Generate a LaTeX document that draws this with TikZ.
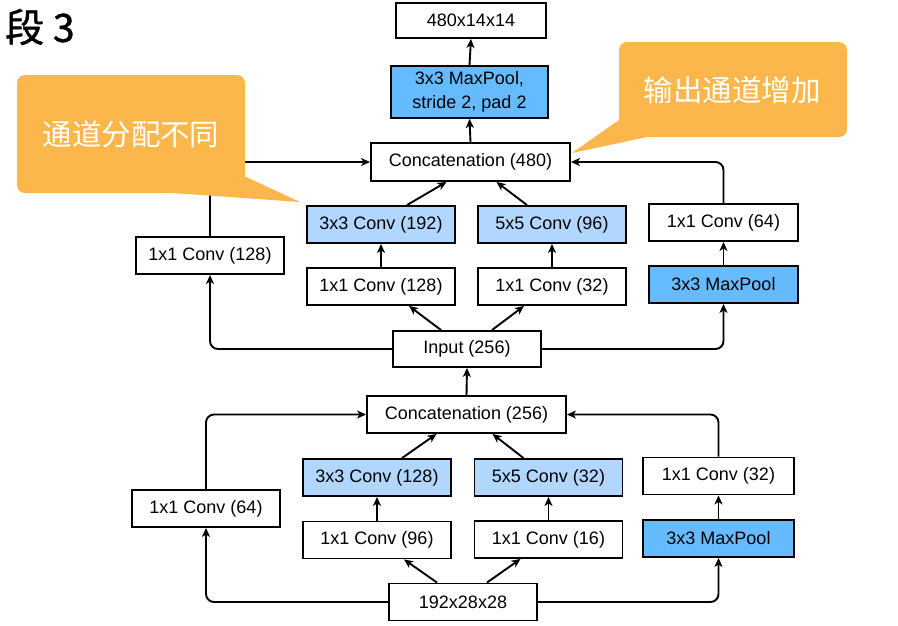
\documentclass[tikz,border=0pt]{standalone}
\usepackage{fontspec}
\setmainfont{Liberation Sans}
\newfontfamily\cjk{Noto Sans CJK SC}
\newfontfamily\cjkt[FakeBold=1.2]{Noto Sans CJK SC}
\usetikzlibrary{arrows.meta,calc}
\definecolor{lblue}{RGB}{178,215,255}
\definecolor{dblue}{RGB}{102,187,255}
\definecolor{callout}{RGB}{251,182,76}
\tikzset{
  box/.style={draw=black, line width=1.9pt, fill=white, minimum width=148pt, minimum height=37pt, inner sep=0pt, font=\fontsize{18}{21}\selectfont, align=center},
  lbox/.style={box, fill=lblue},
  bbox/.style={box, fill=dblue},
  arr/.style={line width=1.9pt, -{Stealth[length=9pt,width=8pt,inset=2.5pt]}, rounded corners=8pt},
  calloutfill/.style={fill=callout, draw=none},
  callouttext/.style={text=white, font=\cjk\fontsize{29.5}{32}\selectfont}
}
\begin{document}
\begin{tikzpicture}[x=1pt,y=-1pt]
\useasboundingbox[fill=white] (0,0) rectangle (898,625);

% title
\node[anchor=west, font=\cjkt\fontsize{39}{40}\selectfont, inner sep=0pt] (title) at (5,27) {段 3};

% ---- upper block ----
\node[box, minimum width=150pt, minimum height=35pt] (out) at (471,20.5) {480x14x14};
\node[bbox, minimum width=157pt, minimum height=52pt, font=\fontsize{18}{24}\selectfont] (mp2) at (469.5,92) {3x3 MaxPool,\\stride 2, pad 2};
\node[box, minimum width=199pt, minimum height=38pt] (cat480) at (470.5,162) {Concatenation (480)};
\node[box] (a1) at (210,255.5) {1x1 Conv (128)};
\node[box] (b1) at (381,286.5) {1x1 Conv (128)};
\node[lbox] (b2) at (381,224.5) {3x3 Conv (192)};
\node[box] (c1) at (552,286.5) {1x1 Conv (32)};
\node[lbox] (c2) at (552,224.5) {5x5 Conv (96)};
\node[bbox, minimum width=149pt] (d1) at (723.5,284.5) {3x3 MaxPool};
\node[box, minimum width=149pt] (d2) at (723.5,222.5) {1x1 Conv (64)};
\node[box, minimum height=36pt] (in256) at (467,349) {Input (256)};

% ---- lower block ----
\node[box, minimum width=199pt] (cat256) at (466.5,414.5) {Concatenation (256)};
\node[box] (e) at (206,508.5) {1x1 Conv (64)};
\node[box] (f1) at (377,540) {1x1 Conv (96)};
\node[lbox] (f2) at (377,477.5) {3x3 Conv (128)};
\node[box] (g1) at (548.5,539.5) {1x1 Conv (16)};
\node[lbox] (g2) at (548.5,477.5) {5x5 Conv (32)};
\node[bbox, minimum width=151pt] (h1) at (718.5,538.5) {3x3 MaxPool};
\node[box, minimum width=151pt] (h2) at (718.5,476) {1x1 Conv (32)};
\node[box] (inp) at (463,602) {192x28x28};

% ---- upper connectors ----
\draw[arr] (mp2.north) -- (out.south);
\draw[arr] (cat480.north) -- (mp2.south);
\draw[arr] (in256.west) -| (a1.south);
\draw[arr] (a1.north) |- (cat480.west);
\draw[arr] ([xshift=-26pt]in256.north) -- ([xshift=28pt]b1.south);
\draw[arr] ([xshift=25pt]in256.north) -- ([xshift=-28pt]c1.south);
\draw[arr] (b1.north) -- (b2.south);
\draw[arr] (c1.north) -- (c2.south);
\draw[arr] ([xshift=26pt]b2.north) -- ([xshift=-24pt]cat480.south);
\draw[arr] ([xshift=-25pt]c2.north) -- ([xshift=26pt]cat480.south);
\draw[arr] (in256.east) -| (d1.south);
\draw[arr] (d1.north) -- (d2.south);
\draw[arr] (d2.north) |- (cat480.east);
\draw[arr] (cat256.north) -- (in256.south);

% ---- lower connectors ----
\draw[arr] (inp.west) -| (e.south);
\draw[arr] (e.north) |- (cat256.west);
\draw[arr] ([xshift=-26pt]inp.north) -- ([xshift=27pt]f1.south);
\draw[arr] ([xshift=24pt]inp.north) -- ([xshift=-28pt]g1.south);
\draw[arr] (f1.north) -- (f2.south);
\draw[arr] (g1.north) -- (g2.south);
\draw[arr] ([xshift=25pt]f2.north) -- ([xshift=-30pt]cat256.south);
\draw[arr] ([xshift=-25pt]g2.north) -- ([xshift=26pt]cat256.south);
\draw[arr] (inp.east) -| (h1.south);
\draw[arr] (h1.north) -- (h2.south);
\draw[arr] (h2.north) |- (cat256.east);

% ---- callouts ----
\fill[calloutfill, rounded corners=8pt] (17,75) rectangle (245,193);
\fill[calloutfill] (235,176.7) -- (245.5,176.7) -- (300,202) -- (173,193) -- (173,185) -- cycle;
\node[callouttext] (note1) at (131,134) {通道分配不同};

\fill[calloutfill, rounded corners=8pt] (619,42) rectangle (847,137);
\fill[calloutfill] (619,110) -- (619,120) -- (572,153) -- (647,137) -- (640,130) -- cycle;
\node[callouttext] (note2) at (732,90) {输出通道增加};
\end{tikzpicture}
\end{document}
